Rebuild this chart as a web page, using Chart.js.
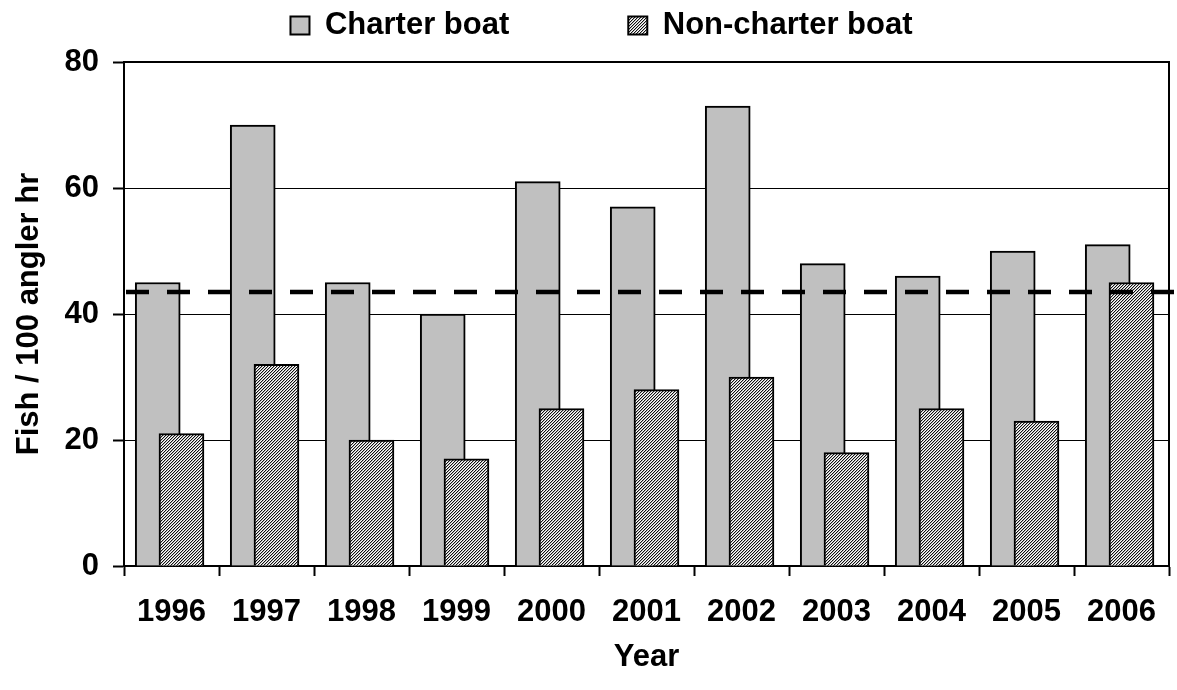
<!DOCTYPE html>
<html>
<head>
<meta charset="utf-8">
<script src="https://cdn.jsdelivr.net/npm/chart.js@4.4.1/dist/chart.umd.min.js"></script>
<style>
  html, body { margin: 0; padding: 0; background: #fff; }
  #wrap { width: 1177px; height: 690px; }
</style>
</head>
<body>
<div id="wrap"><canvas id="fishChart" width="1177" height="690"></canvas></div>
<script>
// values
const years = ['1996', '1997', '1998', '1999', '2000', '2001', '2002', '2003', '2004', '2005', '2006'];
const charterBoat = [45, 70, 45, 40, 61, 57, 73, 48, 46, 50, 51];
const nonCharterBoat = [21, 32, 20, 17, 25, 28, 30, 18, 25, 23, 45];
const referenceLevel = [43.5];
const yTicks = [0, 20, 40, 60, 80];

// bars overlap inside each year, so they sit on a hidden linear axis
const charterShift = -0.145;
const nonCharterShift = 0.105;

const font = { family: "'Liberation Sans', Arial, sans-serif", size: 31, weight: 'bold' };

function makeHatch() {
    const c = document.createElement('canvas');
    c.width = 3;
    c.height = 3;
    const g = c.getContext('2d');
    g.fillStyle = '#fff';
    g.fillRect(0, 0, 3, 3);
    for (let x = 0; x < 3; x++) {
        for (let y = 0; y < 3; y++) {
            const k = (x + y) % 3;
            if (k === 0) { g.fillStyle = '#111'; g.fillRect(x, y, 1, 1); }
            if (k === 1) { g.fillStyle = '#b4b4b4'; g.fillRect(x, y, 1, 1); }
        }
    }
    return g.createPattern(c, 'repeat');
}

// top/right frame of the plot and the dashed reference line
const frameAndLevel = {
    id: 'frameAndLevel',
    afterDatasetsDraw(chart) {
        const { ctx, chartArea: a, scales: { y } } = chart;
        ctx.save();
        ctx.strokeStyle = '#000';
        ctx.lineWidth = 2;
        ctx.beginPath();
        ctx.moveTo(a.left, a.top);
        ctx.lineTo(a.right, a.top);
        ctx.lineTo(a.right, a.bottom);
        ctx.stroke();

        const py = y.getPixelForValue(referenceLevel[0]);
        ctx.lineWidth = 4.5;
        ctx.setLineDash([23, 18]);
        ctx.beginPath();
        ctx.moveTo(a.left + 2, py);
        ctx.lineTo(chart.width, py);
        ctx.stroke();
        ctx.restore();
    }
};

// legend needs a wide gap between items but a short box
const legendPlace = {
    id: 'legendPlace',
    beforeInit(chart) {
        const fit = chart.legend.fit;
        chart.legend.fit = function () {
            fit.call(this);
            this.height = 62;
        };
    },
    afterLayout(chart) {
        const lg = chart.legend;
        lg.top = 10 - lg.options.labels.padding;
        lg.left += 17;
        lg.right += 17;
    }
};

const ctx = document.getElementById('fishChart').getContext('2d');

new Chart(ctx, {
    type: 'bar',
    data: {
        labels: years,
        datasets: [{
            label: 'Charter boat',
            data: charterBoat.map((v, i) => ({ x: i + charterShift, y: v })),
            xAxisID: 'xb',
            backgroundColor: '#c0c0c0',
            borderColor: '#000',
            borderWidth: 2,
            barThickness: 45,
            grouped: false,
            order: 1
        }, {
            label: 'Non-charter boat',
            data: nonCharterBoat.map((v, i) => ({ x: i + nonCharterShift, y: v })),
            xAxisID: 'xb',
            backgroundColor: makeHatch(),
            borderColor: '#000',
            borderWidth: 2,
            barThickness: 45,
            grouped: false,
            order: 0
        }]
    },
    options: {
        responsive: false,
        devicePixelRatio: 1,
        animation: false,
        layout: { padding: { left: 0, right: 8, top: 0, bottom: 0 } },
        plugins: {
            legend: {
                position: 'top',
                labels: {
                    color: '#000',
                    font: font,
                    boxWidth: 19,
                    boxHeight: 18,
                    padding: 119,
                    sort: (a, b) => a.datasetIndex - b.datasetIndex
                }
            },
            tooltip: { enabled: false }
        },
        scales: {
            x: {
                type: 'category',
                labels: years,
                offset: true,
                grid: {
                    display: true,
                    drawOnChartArea: false,
                    offset: true,
                    tickLength: 10,
                    tickWidth: 2,
                    color: '#000'
                },
                border: { color: '#000', width: 2 },
                ticks: { color: '#000', font: font, padding: 18, maxRotation: 0, autoSkip: false },
                title: {
                    display: true,
                    text: 'Year',
                    color: '#000',
                    font: font,
                    padding: { top: 0, bottom: 14 }
                },
                afterFit(scale) { scale.height = 124; }
            },
            xb: {
                type: 'linear',
                min: -0.5,
                max: years.length - 0.5,
                offset: false,
                grid: { offset: false },
                display: false
            },
            y: {
                min: yTicks[0],
                max: yTicks[yTicks.length - 1],
                ticks: { stepSize: 20, color: '#000', font: font, padding: 14 },
                grid: { color: '#000', lineWidth: 1, tickLength: 11, tickWidth: 2, tickColor: '#000' },
                border: { color: '#000', width: 2 },
                title: {
                    display: true,
                    text: 'Fish / 100 angler hr',
                    color: '#000',
                    font: font,
                    padding: { top: 11, bottom: 0 }
                },
                afterFit(scale) { scale.width = 124; }
            }
        }
    },
    plugins: [frameAndLevel, legendPlace]
});
</script>
</body>
</html>
